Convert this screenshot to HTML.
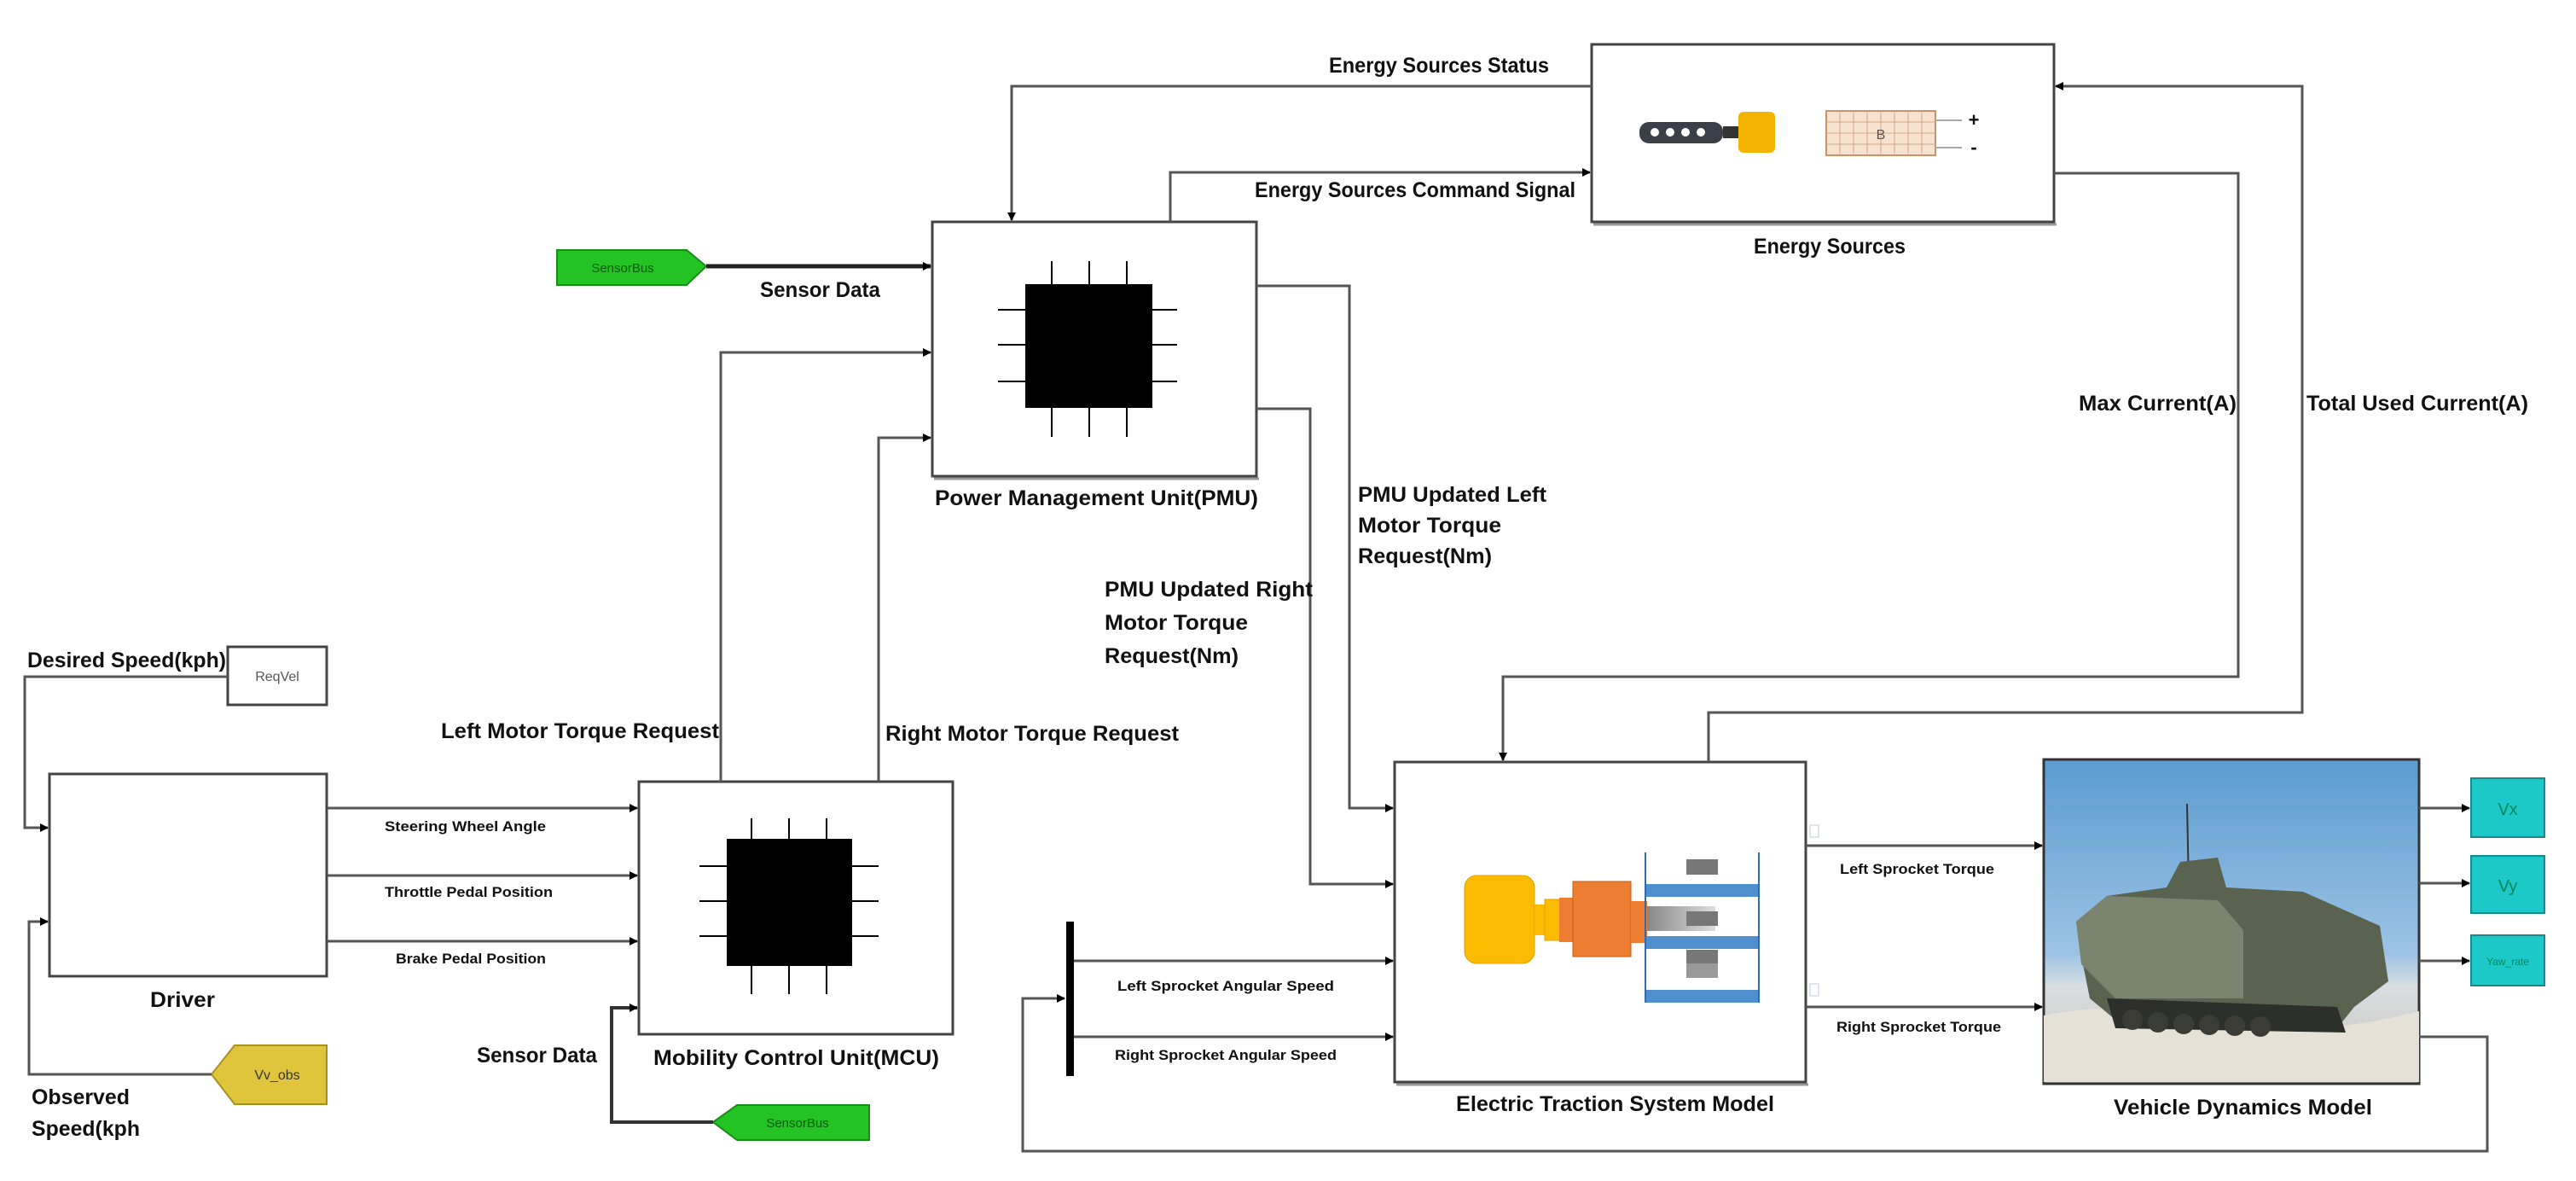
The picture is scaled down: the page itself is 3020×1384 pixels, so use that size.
<!DOCTYPE html>
<html><head><meta charset="utf-8"><style>
html,body{margin:0;padding:0;background:#fff}
svg{display:block}
text{font-family:"Liberation Sans Narrow","Liberation Sans",sans-serif;font-weight:bold;fill:#111}
.s{font-size:25px}
.m{font-size:17px}
.l{fill:none;stroke:#555;stroke-width:3}
.b{fill:#fff;stroke:#444;stroke-width:3}
</style></head><body>
<svg width="3020" height="1384" viewBox="0 0 3020 1384" xmlns="http://www.w3.org/2000/svg">
<defs>
<marker id="a" markerWidth="10" markerHeight="10" refX="9" refY="5" orient="auto" markerUnits="userSpaceOnUse"><path d="M0,0 L10,5 L0,10 Z" fill="#000"/></marker>
<linearGradient id="sky" x1="0" y1="0" x2="0" y2="1"><stop offset="0" stop-color="#5b9bd0"/><stop offset="0.6" stop-color="#9cc3e4"/><stop offset="0.7" stop-color="#d8dde0"/><stop offset="1" stop-color="#c9c4b8"/></linearGradient>
<linearGradient id="sh" x1="0" y1="0" x2="1" y2="0"><stop offset="0" stop-color="#888"/><stop offset="1" stop-color="#ddd"/></linearGradient>
</defs>

<rect class="b" x="1093" y="260" width="380" height="298"/>
<line x1="1095" y1="561" x2="1476" y2="561" stroke="#999" stroke-width="3"/>
<rect class="b" x="1866" y="52" width="542" height="208"/>
<line x1="1868" y1="263" x2="2411" y2="263" stroke="#999" stroke-width="3"/>
<rect class="b" x="58" y="907" width="325" height="237"/>
<rect class="b" x="749" y="916" width="368" height="296"/>
<rect class="b" x="267" y="758" width="116" height="68"/>
<rect class="b" x="1635" y="893" width="482" height="375"/>
<line x1="1637" y1="1271" x2="2120" y2="1271" stroke="#999" stroke-width="3"/>

<rect x="1202" y="333" width="149" height="145" fill="#000"/>
<g stroke="#000" stroke-width="2">
<line x1="1233" y1="306" x2="1233" y2="512"/><line x1="1277" y1="306" x2="1277" y2="512"/><line x1="1321" y1="306" x2="1321" y2="512"/>
<line x1="1170" y1="363" x2="1380" y2="363"/><line x1="1170" y1="404" x2="1380" y2="404"/><line x1="1170" y1="447" x2="1380" y2="447"/>
</g>
<rect x="852" y="983" width="147" height="149" fill="#000"/>
<g stroke="#000" stroke-width="2">
<line x1="881" y1="959" x2="881" y2="1165"/><line x1="925" y1="959" x2="925" y2="1165"/><line x1="969" y1="959" x2="969" y2="1165"/>
<line x1="820" y1="1015" x2="1030" y2="1015"/><line x1="820" y1="1056" x2="1030" y2="1056"/><line x1="820" y1="1097" x2="1030" y2="1097"/>
</g>

<rect x="1922" y="143" width="98" height="25" rx="11" fill="#3b4048"/>
<g fill="#fff"><circle cx="1940" cy="155" r="5"/><circle cx="1958" cy="155" r="5"/><circle cx="1976" cy="155" r="5"/><circle cx="1994" cy="155" r="5"/></g>
<rect x="2020" y="148" width="20" height="14" fill="#333"/>
<rect x="2038" y="131" width="43" height="48" rx="6" fill="#f3b400"/>
<rect x="2141" y="130" width="128" height="52" fill="#f6e2cf" stroke="#c8926a" stroke-width="2"/>
<g stroke="#d7a887" stroke-width="1">
<line x1="2141" y1="143" x2="2269" y2="143"/><line x1="2141" y1="156" x2="2269" y2="156"/><line x1="2141" y1="169" x2="2269" y2="169"/>
<line x1="2157" y1="130" x2="2157" y2="182"/><line x1="2173" y1="130" x2="2173" y2="182"/><line x1="2189" y1="130" x2="2189" y2="182"/><line x1="2205" y1="130" x2="2205" y2="182"/><line x1="2221" y1="130" x2="2221" y2="182"/><line x1="2237" y1="130" x2="2237" y2="182"/><line x1="2253" y1="130" x2="2253" y2="182"/>
</g>
<text x="2205" y="163" text-anchor="middle" style="font-size:16px;font-weight:normal;fill:#555">B</text>
<line x1="2269" y1="141" x2="2300" y2="141" stroke="#aaa" stroke-width="2"/><line x1="2269" y1="173" x2="2300" y2="173" stroke="#aaa" stroke-width="2"/>
<text x="2314" y="148" text-anchor="middle" style="font-size:22px">+</text>
<text x="2314" y="180" text-anchor="middle" style="font-size:22px">-</text>

<rect x="1717" y="1026" width="82" height="103" rx="14" fill="#fbbb00" stroke="#e0a000"/>
<rect x="1799" y="1060" width="14" height="36" fill="#fbbb00"/>
<rect x="1811" y="1054" width="20" height="48" fill="#fbbb00" stroke="#e0a000"/>
<rect x="1828" y="1052" width="16" height="52" fill="#ed7d31"/>
<rect x="1844" y="1033" width="68" height="88" fill="#ed7d31" stroke="#c55a11"/>
<rect x="1912" y="1056" width="19" height="49" fill="#ed7d31"/>
<rect x="1931" y="1062" width="80" height="29" fill="url(#sh)"/>
<g fill="#777"><rect x="1977" y="1007" width="37" height="18"/><rect x="1977" y="1068" width="37" height="17"/><rect x="1977" y="1113" width="37" height="16"/><rect x="1977" y="1129" width="37" height="17" fill="#999"/></g>
<g fill="#4f8fd0"><rect x="1929" y="1036" width="133" height="15"/><rect x="1929" y="1097" width="133" height="15"/><rect x="1929" y="1160" width="133" height="15"/></g>
<line x1="1929" y1="999" x2="1929" y2="1175" stroke="#2e6db4" stroke-width="2"/>
<line x1="2062" y1="999" x2="2062" y2="1175" stroke="#2e6db4" stroke-width="2"/>
<rect x="2122" y="967" width="10" height="14" fill="#fff" stroke="#bcd" stroke-width="1"/>
<rect x="2122" y="1153" width="10" height="14" fill="#fff" stroke="#bcd" stroke-width="1"/>

<rect x="2396" y="890" width="440" height="380" fill="url(#sky)" stroke="#333" stroke-width="3"/>
<path d="M2396,1190 Q2500,1170 2600,1195 T2836,1185 L2836,1268 L2396,1268 Z" fill="#e6e1d6"/>
<line x1="2564" y1="942" x2="2566" y2="1040" stroke="#333" stroke-width="2"/>
<path d="M2434,1080 L2470,1050 L2540,1040 L2556,1010 L2600,1005 L2610,1040 L2700,1045 L2790,1085 L2800,1150 L2760,1180 L2740,1205 L2480,1195 L2450,1170 L2440,1120 Z" fill="#5a6350"/>
<path d="M2434,1080 L2470,1050 L2600,1055 L2630,1090 L2630,1170 L2480,1170 L2440,1130 Z" fill="#7b846f"/>
<path d="M2470,1170 L2740,1180 L2750,1210 L2480,1205 Z" fill="#2d302a"/>
<g fill="#3a3c35"><circle cx="2500" cy="1195" r="12"/><circle cx="2530" cy="1198" r="12"/><circle cx="2560" cy="1200" r="12"/><circle cx="2590" cy="1201" r="12"/><circle cx="2620" cy="1202" r="12"/><circle cx="2650" cy="1203" r="12"/></g>

<path d="M653,293 L805,293 L828,312 L805,334 L653,334 Z" fill="#22c322" stroke="#198c19" stroke-width="2"/>
<text x="730" y="319" text-anchor="middle" style="font-size:15px;font-weight:normal;fill:#0a5a0a">SensorBus</text>
<path d="M1019,1295 L864,1295 L836,1315 L864,1336 L1019,1336 Z" fill="#22c322" stroke="#198c19" stroke-width="2"/>
<text x="935" y="1321" text-anchor="middle" style="font-size:15px;font-weight:normal;fill:#0a5a0a">SensorBus</text>
<path d="M383,1225 L275,1225 L248,1259 L275,1294 L383,1294 Z" fill="#e0c43c" stroke="#a89020" stroke-width="2"/>
<text x="325" y="1265" text-anchor="middle" style="font-size:16px;font-weight:normal;fill:#333">Vv_obs</text>
<text x="325" y="798" text-anchor="middle" style="font-size:16px;font-weight:normal;fill:#555">ReqVel</text>
<g fill="#1cc8c8" stroke="#128c8c" stroke-width="2">
<rect x="2897" y="912" width="86" height="69"/><rect x="2897" y="1003" width="86" height="67"/><rect x="2897" y="1096" width="86" height="59"/></g>
<text x="2940" y="955" text-anchor="middle" style="font-size:20px;font-weight:normal;fill:#085">Vx</text>
<text x="2940" y="1045" text-anchor="middle" style="font-size:20px;font-weight:normal;fill:#085">Vy</text>
<text x="2940" y="1131" text-anchor="middle" style="font-size:12px;font-weight:normal;fill:#085">Yaw_rate</text>

<rect x="1250" y="1080" width="9" height="181" fill="#000"/>

<polyline class="l" points="1866,101 1186,101 1186,258" marker-end="url(#a)"/>
<polyline class="l" points="1372,260 1372,202 1864,202" marker-end="url(#a)"/>
<line x1="828" y1="312" x2="1091" y2="312" stroke="#222" stroke-width="5" marker-end="url(#a)"/>
<polyline class="l" points="845,916 845,413 1091,413" marker-end="url(#a)"/>
<polyline class="l" points="1030,916 1030,513 1091,513" stroke="#888" marker-end="url(#a)"/>
<polyline class="l" points="1473,335 1582,335 1582,947 1633,947" marker-end="url(#a)"/>
<polyline class="l" points="1473,479 1536,479 1536,1036 1633,1036" marker-end="url(#a)"/>
<polyline class="l" points="2408,203 2624,203 2624,793 1762,793 1762,891" marker-end="url(#a)"/>
<polyline class="l" points="2003,893 2003,835 2699,835 2699,101 2410,101" marker-end="url(#a)"/>
<polyline class="l" points="267,793 29,793 29,970 56,970" marker-end="url(#a)"/>
<polyline class="l" points="248,1259 34,1259 34,1080 56,1080" marker-end="url(#a)"/>
<line class="l" x1="383" y1="947" x2="747" y2="947" marker-end="url(#a)"/>
<line class="l" x1="383" y1="1026" x2="747" y2="1026" marker-end="url(#a)"/>
<line class="l" x1="383" y1="1103" x2="747" y2="1103" marker-end="url(#a)"/>
<polyline points="836,1315 717,1315 717,1181 747,1181" fill="none" stroke="#333" stroke-width="4" marker-end="url(#a)"/>
<line class="l" x1="1259" y1="1126" x2="1633" y2="1126" stroke="#999" marker-end="url(#a)"/>
<line class="l" x1="1259" y1="1215" x2="1633" y2="1215" marker-end="url(#a)"/>
<polyline class="l" points="2836,1215 2916,1215 2916,1349 1199,1349 1199,1170 1248,1170" marker-end="url(#a)"/>
<line class="l" x1="2117" y1="991" x2="2394" y2="991" stroke="#999" marker-end="url(#a)"/>
<line class="l" x1="2117" y1="1180" x2="2394" y2="1180" stroke="#999" marker-end="url(#a)"/>
<line class="l" x1="2836" y1="947" x2="2895" y2="947" marker-end="url(#a)"/>
<line class="l" x1="2836" y1="1035" x2="2895" y2="1035" marker-end="url(#a)"/>
<line class="l" x1="2836" y1="1126" x2="2895" y2="1126" marker-end="url(#a)"/>

<g class="s">
<text x="1558" y="85" textLength="258" lengthAdjust="spacingAndGlyphs">Energy Sources Status</text>
<text x="1471" y="231" textLength="376" lengthAdjust="spacingAndGlyphs">Energy Sources Command Signal</text>
<text x="891" y="348" textLength="141" lengthAdjust="spacingAndGlyphs">Sensor Data</text>
<text x="1096" y="592" textLength="379" lengthAdjust="spacingAndGlyphs">Power Management Unit(PMU)</text>
<text x="2056" y="297" textLength="178" lengthAdjust="spacingAndGlyphs">Energy Sources</text>
<text x="2437" y="481" textLength="185" lengthAdjust="spacingAndGlyphs">Max Current(A)</text>
<text x="2704" y="481" textLength="260" lengthAdjust="spacingAndGlyphs">Total Used Current(A)</text>
<text x="1592" y="588" textLength="221" lengthAdjust="spacingAndGlyphs">PMU Updated Left</text>
<text x="1592" y="624" textLength="168" lengthAdjust="spacingAndGlyphs">Motor Torque</text>
<text x="1592" y="660" textLength="157" lengthAdjust="spacingAndGlyphs">Request(Nm)</text>
<text x="1295" y="699" textLength="244" lengthAdjust="spacingAndGlyphs">PMU Updated Right</text>
<text x="1295" y="738" textLength="168" lengthAdjust="spacingAndGlyphs">Motor Torque</text>
<text x="1295" y="777" textLength="157" lengthAdjust="spacingAndGlyphs">Request(Nm)</text>
<text x="32" y="782" textLength="233" lengthAdjust="spacingAndGlyphs">Desired Speed(kph)</text>
<text x="517" y="865" textLength="326" lengthAdjust="spacingAndGlyphs">Left Motor Torque Request</text>
<text x="1038" y="868" textLength="344" lengthAdjust="spacingAndGlyphs">Right Motor Torque Request</text>
<text x="176" y="1180" textLength="76" lengthAdjust="spacingAndGlyphs">Driver</text>
<text x="559" y="1245" textLength="141" lengthAdjust="spacingAndGlyphs">Sensor Data</text>
<text x="766" y="1248" textLength="335" lengthAdjust="spacingAndGlyphs">Mobility Control Unit(MCU)</text>
<text x="37" y="1294" textLength="115" lengthAdjust="spacingAndGlyphs">Observed</text>
<text x="37" y="1331" textLength="127" lengthAdjust="spacingAndGlyphs">Speed(kph</text>
<text x="1707" y="1302" textLength="373" lengthAdjust="spacingAndGlyphs">Electric Traction System Model</text>
<text x="2478" y="1306" textLength="303" lengthAdjust="spacingAndGlyphs">Vehicle Dynamics Model</text>
</g>
<g class="m">
<text x="451" y="974" textLength="189" lengthAdjust="spacingAndGlyphs">Steering Wheel Angle</text>
<text x="451" y="1051" textLength="197" lengthAdjust="spacingAndGlyphs">Throttle Pedal Position</text>
<text x="464" y="1129" textLength="176" lengthAdjust="spacingAndGlyphs">Brake Pedal Position</text>
<text x="1310" y="1161" textLength="254" lengthAdjust="spacingAndGlyphs">Left Sprocket Angular Speed</text>
<text x="1307" y="1242" textLength="260" lengthAdjust="spacingAndGlyphs">Right Sprocket Angular Speed</text>
<text x="2157" y="1024" textLength="181" lengthAdjust="spacingAndGlyphs">Left Sprocket Torque</text>
<text x="2153" y="1209" textLength="193" lengthAdjust="spacingAndGlyphs">Right Sprocket Torque</text>
</g>
</svg>
</body></html>
